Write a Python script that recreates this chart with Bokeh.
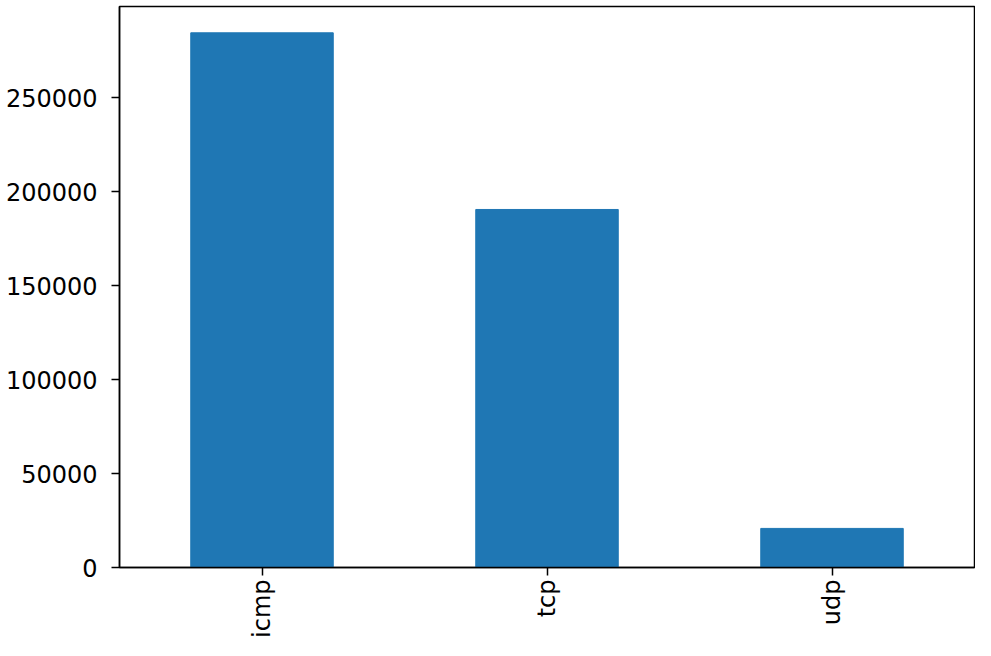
from math import pi
from bokeh.plotting import figure
from bokeh.models import ColumnDataSource, FixedTicker, PrintfTickFormatter, Range1d, FactorRange
from bokeh.embed import file_html
from bokeh.resources import INLINE

categories = ["icmp", "tcp", "udp"]
counts = [284500, 190500, 20800]
y_ticks = [0, 50000, 100000, 150000, 200000, 250000]

source = ColumnDataSource(data=dict(cat=categories, count=counts))

p = figure(x_range=FactorRange(*categories, range_padding=0), y_range=Range1d(0, 298500),
           width=975, height=640, output_backend="svg", toolbar_location=None,
           min_border_left=119, min_border_right=1, min_border_top=6, min_border_bottom=71)

p.vbar(x="cat", top="count", width=0.5, source=source, fill_color="#1f77b4", line_color="#1f77b4")

p.xgrid.visible = False
p.ygrid.visible = False
p.outline_line_color = "black"
p.outline_line_width = 1.5
p.outline_line_alpha = 1.0

for ax in (p.xaxis, p.yaxis):
    ax.axis_line_color = "black"
    ax.axis_line_width = 1.5
    ax.major_tick_line_color = "black"
    ax.major_tick_line_width = 1.5
    ax.major_tick_out = 8
    ax.major_tick_in = 0
    ax.minor_tick_line_color = None
    ax.major_label_text_font = "DejaVu Sans"
    ax.major_label_text_font_size = "24px"
    ax.major_label_text_color = "black"

p.yaxis.major_label_standoff = 14
p.xaxis.major_label_standoff = 4
p.yaxis.ticker = FixedTicker(ticks=y_ticks)
p.yaxis.formatter = PrintfTickFormatter(format="%d")
p.xaxis.major_label_orientation = pi / 2

open("out.html", "w").write(file_html(p, INLINE))
